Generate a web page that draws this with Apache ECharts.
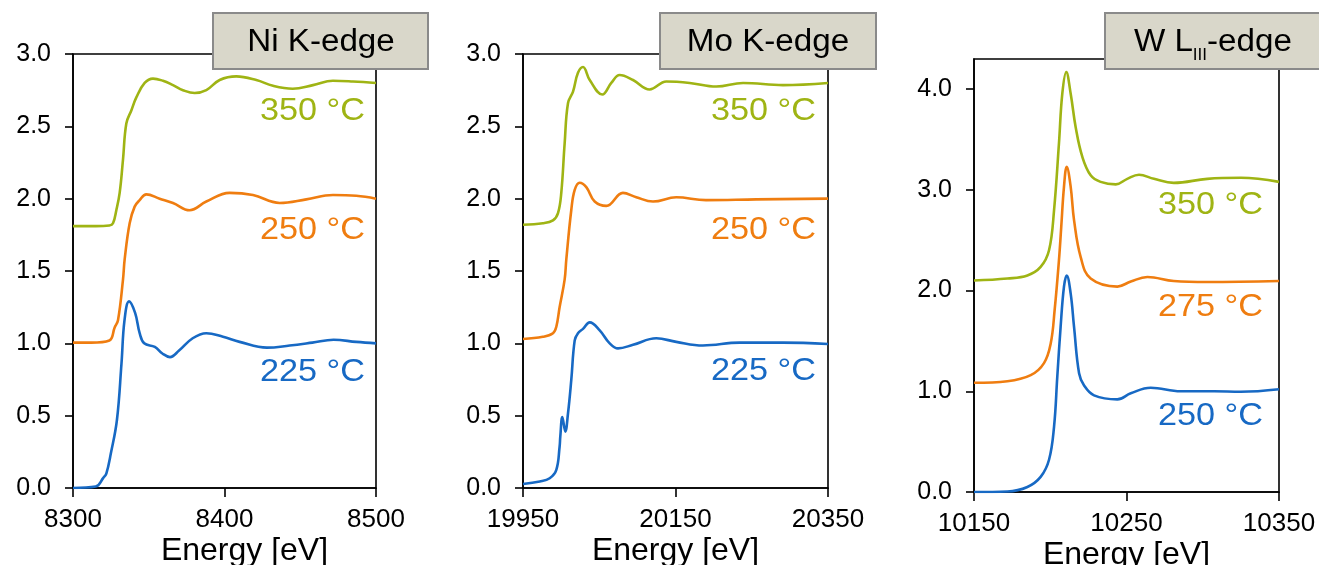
<!DOCTYPE html>
<html><head><meta charset="utf-8">
<script src="https://cdn.jsdelivr.net/npm/echarts@6/dist/echarts.min.js"></script>
<style>html,body{margin:0;padding:0;background:#fff}#c{width:1319px;height:565px}</style>
</head><body><div id="c"></div>
<script>
// ---- Ni K-edge ----
const niE225 = [8300, 8315, 8320, 8322, 8325, 8329, 8332, 8334, 8337, 8341, 8344, 8347, 8354, 8359, 8364, 8370, 8379, 8388, 8399, 8410, 8428, 8443, 8458, 8472, 8487, 8500];
const niV225 = [0.00, 0.01, 0.07, 0.10, 0.24, 0.47, 0.86, 1.16, 1.29, 1.21, 1.07, 1.00, 0.975, 0.93, 0.905, 0.95, 1.035, 1.07, 1.045, 1.01, 0.97, 0.985, 1.005, 1.025, 1.01, 1.00];
const niE250 = [8300, 8312, 8324, 8327.5, 8329.7, 8333, 8334.1, 8337.4, 8340.7, 8344, 8348.4, 8357.2, 8366, 8377, 8388, 8403.4, 8418.8, 8436.4, 8454, 8471.6, 8487, 8500];
const niV250 = [1.005, 1.005, 1.02, 1.11, 1.16, 1.44, 1.58, 1.83, 1.945, 1.99, 2.03, 2.00, 1.97, 1.92, 1.98, 2.04, 2.025, 1.97, 1.995, 2.025, 2.02, 2.00];
const niE350 = [8300, 8315, 8324, 8326.4, 8328.6, 8330.8, 8333, 8335.2, 8338.5, 8341.8, 8347.3, 8352.8, 8359.4, 8366, 8372.6, 8380.3, 8388, 8396.8, 8407.8, 8421, 8432, 8445, 8458.4, 8471.6, 8484.8, 8500];
const niV350 = [1.81, 1.81, 1.815, 1.83, 1.92, 2.04, 2.27, 2.52, 2.61, 2.70, 2.80, 2.83, 2.815, 2.785, 2.75, 2.73, 2.75, 2.82, 2.845, 2.82, 2.78, 2.76, 2.785, 2.815, 2.81, 2.80];
// ---- Mo K-edge ----
const moE225 = [19950, 19972, 19985, 19993.7, 19998, 19998.9, 20001.6, 20005.5, 20009, 20013.3, 20017.8, 20022.1, 20028.7, 20037.5, 20050.6, 20063.7, 20074.6, 20094.3, 20124.8, 20151, 20186, 20234, 20291, 20350];
const moV225 = [0.028, 0.045, 0.067, 0.125, 0.285, 0.355, 0.49, 0.39, 0.515, 0.745, 1.02, 1.07, 1.10, 1.145, 1.09, 1.00, 0.965, 0.99, 1.035, 1.01, 0.985, 1.005, 1.005, 0.995];
const moE250 = [19950, 19976, 19989.3, 19993.7, 19998, 20004.6, 20006.8, 20013.3, 20017.8, 20024.3, 20033, 20044, 20059.3, 20081, 20098.6, 20120.5, 20151, 20190, 20256, 20350];
const moV250 = [1.03, 1.045, 1.07, 1.115, 1.25, 1.44, 1.58, 1.92, 2.06, 2.11, 2.08, 1.98, 1.95, 2.04, 2.01, 1.98, 2.01, 1.99, 1.995, 2.00];
const moE350 = [19950, 19976, 19989.3, 19995.9, 20000.2, 20004.6, 20009, 20015.6, 20022.1, 20028.7, 20037.5, 20054, 20065.8, 20076.8, 20094.3, 20116, 20138, 20168.6, 20203.5, 20238.6, 20291, 20350];
const moV350 = [1.82, 1.83, 1.85, 1.90, 2.04, 2.38, 2.66, 2.74, 2.87, 2.91, 2.82, 2.72, 2.80, 2.855, 2.82, 2.755, 2.81, 2.80, 2.775, 2.80, 2.785, 2.80];
// ---- W LIII-edge ----
const wE250 = [10150, 10171.9, 10185, 10193.7, 10199.2, 10202.5, 10204.6, 10206.8, 10209, 10210.8, 10213.4, 10215.6, 10218.9, 10222.1, 10228.7, 10244, 10252.8, 10265.9, 10285.5, 10307.4, 10324.9, 10350];
const wV250 = [0.0, 0.005, 0.05, 0.15, 0.32, 0.65, 1.14, 1.64, 2.04, 2.15, 1.97, 1.64, 1.18, 1.06, 0.96, 0.92, 0.98, 1.035, 1.00, 1.00, 0.995, 1.02];
const wE275 = [10150, 10171.9, 10187.2, 10195.9, 10200.3, 10202.9, 10205.7, 10207.2, 10209, 10210.8, 10213.4, 10215.6, 10220, 10226.5, 10244, 10252.8, 10263.7, 10281, 10303, 10350];
const wV275 = [1.085, 1.10, 1.16, 1.28, 1.475, 1.81, 2.30, 2.63, 3.03, 3.23, 3.03, 2.70, 2.33, 2.12, 2.04, 2.09, 2.135, 2.095, 2.085, 2.095];
const wE350 = [10150, 10171.9, 10185, 10193.7, 10199.2, 10202.5, 10205.7, 10207.9, 10210.5, 10213.4, 10216.7, 10221, 10226.5, 10233, 10243, 10250.5, 10258.2, 10268, 10281, 10303, 10325, 10350];
const wV350 = [2.10, 2.12, 2.15, 2.235, 2.40, 2.80, 3.46, 3.955, 4.17, 3.955, 3.62, 3.33, 3.145, 3.08, 3.055, 3.11, 3.15, 3.11, 3.07, 3.11, 3.12, 3.08];

const xTicks = [[8300, 8400, 8500], [19950, 20150, 20350], [10150, 10250, 10350]];
const yTicks = [[0, 0.5, 1, 1.5, 2, 2.5, 3], [0, 0.5, 1, 1.5, 2, 2.5, 3], [0, 1, 2, 3, 4]];
const yMax = [3, 3, 4.3];
const titles = ['Ni K-edge', 'Mo K-edge'];
const tempLabels = [['350 °C', '250 °C', '225 °C'], ['350 °C', '250 °C', '225 °C'], ['350 °C', '275 °C', '250 °C']];

const GREEN = '#9fb414', ORANGE = '#ef7d10', BLUE = '#1769c4';
const FONT = '"Liberation Sans", Arial, sans-serif';
const zip = (a, b) => a.map((v, i) => [v, b[i]]);

const grids = [
  {left: 73, top: 54, width: 303, height: 434},
  {left: 523, top: 54, width: 305, height: 434},
  {left: 974, top: 59, width: 305, height: 433}
].map(g => Object.assign(g, {show: true, containLabel: false, outerBoundsMode: 'none', borderColor: '#000', borderWidth: 1.6, backgroundColor: 'transparent'}));

const xAxes = xTicks.map((t, i) => ({
  type: 'value', gridIndex: i, min: t[0], max: t[2],
  name: 'Energy [eV]', nameLocation: 'middle', nameGap: 47, nameMoveOverlap: false,
  nameTextStyle: {fontSize: 32, color: '#000', fontFamily: FONT, padding: i === 0 ? [0, 0, 0, 40] : 0},
  axisLine: {show: true, lineStyle: {color: '#000', width: 1.6}},
  axisTick: {show: true, length: 9, inside: false, customValues: t, lineStyle: {color: '#000', width: 1.6}},
  axisLabel: {customValues: t, margin: 19, fontSize: 26, color: '#000', fontFamily: FONT, formatter: v => String(v)},
  splitLine: {show: false}
}));
const yAxes = yTicks.map((t, i) => ({
  type: 'value', gridIndex: i, min: 0, max: yMax[i],
  axisLine: {show: true, lineStyle: {color: '#000', width: 1.6}},
  axisTick: {show: true, length: 8, inside: false, customValues: t, lineStyle: {color: '#000', width: 1.6}},
  axisLabel: {customValues: t, margin: 22, fontSize: 25, color: '#000', fontFamily: FONT, formatter: v => v.toFixed(1)},
  splitLine: {show: false}
}));

function line(i, E, V, color) {
  return {type: 'line', xAxisIndex: i, yAxisIndex: i, data: zip(E, V), symbol: 'none', showSymbol: false,
    smooth: 0.4, lineStyle: {width: 2.6, color: color}, itemStyle: {color: color}, z: 3};
}
const series = [
  line(0, niE350, niV350, GREEN), line(0, niE250, niV250, ORANGE), line(0, niE225, niV225, BLUE),
  line(1, moE350, moV350, GREEN), line(1, moE250, moV250, ORANGE), line(1, moE225, moV225, BLUE),
  line(2, wE350, wV350, GREEN), line(2, wE275, wV275, ORANGE), line(2, wE250, wV250, BLUE)
];

const SX = 1.07;
function box(x, y, w, h) {
  return {type: 'rect', shape: {x: x, y: y, width: w, height: h}, style: {fill: '#d9d7ca', stroke: '#8a8a8a', lineWidth: 2}, z: 10};
}
function ctext(txt, x, y, size, color, align) {
  return {type: 'text', x: x, y: y, scaleX: SX, z: 11,
    style: {text: txt, fill: color, fontSize: size, fontFamily: FONT, align: align || 'center', verticalAlign: 'middle'}};
}
const labelCols = [GREEN, ORANGE, BLUE];
const labelY = [[111, 230, 372], [111, 230, 371], [205, 307, 416]];
const labelX = [365, 816, 1263];
const graphic = [
  box(213, 13, 215, 56), ctext(titles[0], 321, 42, 31, '#000'),
  box(660, 13, 216, 56), ctext(titles[1], 768, 42, 31, '#000'),
  box(1105, 13, 216, 56),
  {type: 'group', x: 1212, y: 0, scaleX: SX, z: 11, children: [
    {type: 'text', x: -73, y: 42.5, style: {text: 'W L', fill: '#000', fontSize: 31, fontFamily: FONT, align: 'left', verticalAlign: 'middle'}, z: 11},
    {type: 'text', x: -18.0, y: 56, style: {text: 'III', fill: '#000', fontSize: 16, fontFamily: FONT, align: 'left', verticalAlign: 'middle'}, z: 11},
    {type: 'text', x: -4.6, y: 42.5, style: {text: '-edge', fill: '#000', fontSize: 31, fontFamily: FONT, align: 'left', verticalAlign: 'middle'}, z: 11}
  ]}
];
for (let p = 0; p < 3; p++) {
  for (let k = 0; k < 3; k++) {
    graphic.push(ctext(tempLabels[p][k], labelX[p], labelY[p][k], 32, labelCols[k], 'right'));
  }
}

const chart = echarts.init(document.getElementById('c'), null, {renderer: 'canvas'});
chart.setOption({
  animation: false,
  backgroundColor: '#fff',
  grid: grids, xAxis: xAxes, yAxis: yAxes, series: series, graphic: graphic
});
</script></body></html>
